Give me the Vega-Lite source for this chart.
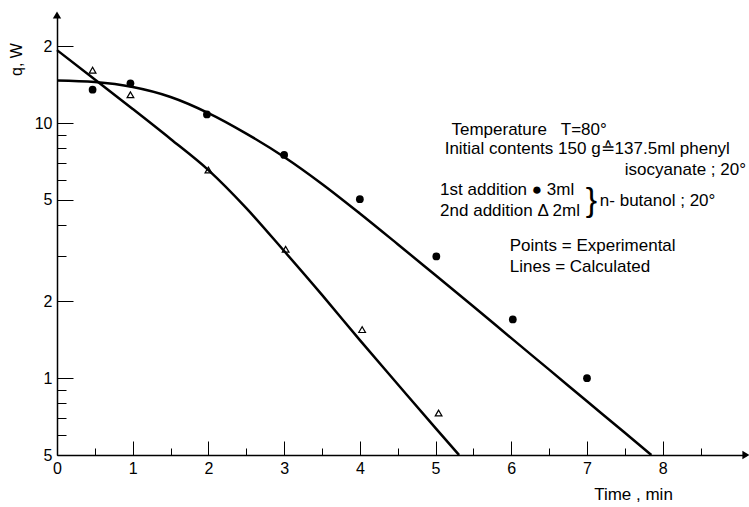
{
  "$schema": "https://vega.github.io/schema/vega-lite/v6.json",
  "width": 689,
  "height": 440,
  "autosize": {"type": "none"},
  "padding": {"left": 57, "top": 15, "right": 3, "bottom": 52},
  "background": "white",
  "config": {"view": {"stroke": null}, "font": "Liberation Sans"},
  "datasets": {
    "lines": [
      {"series": "A", "t": 0, "q": 14.68}, {"series": "A", "t": 0.5, "q": 14.48}, {"series": "A", "t": 1, "q": 13.84},
      {"series": "A", "t": 1.5, "q": 12.65}, {"series": "A", "t": 2, "q": 10.94}, {"series": "A", "t": 2.5, "q": 9.09},
      {"series": "A", "t": 3, "q": 7.36}, {"series": "A", "t": 3.5, "q": 5.77}, {"series": "A", "t": 4, "q": 4.42},
      {"series": "A", "t": 4.5, "q": 3.35}, {"series": "A", "t": 5, "q": 2.53}, {"series": "A", "t": 5.5, "q": 1.91},
      {"series": "A", "t": 6, "q": 1.435}, {"series": "A", "t": 6.5, "q": 1.08}, {"series": "A", "t": 7, "q": 0.812},
      {"series": "A", "t": 7.5, "q": 0.611}, {"series": "A", "t": 7.85, "q": 0.5},
      {"series": "B", "t": 0, "q": 19.3}, {"series": "B", "t": 0.5, "q": 14.8}, {"series": "B", "t": 1, "q": 11.35},
      {"series": "B", "t": 1.5, "q": 8.66}, {"series": "B", "t": 2, "q": 6.54}, {"series": "B", "t": 2.5, "q": 4.64},
      {"series": "B", "t": 3, "q": 3.15}, {"series": "B", "t": 3.5, "q": 2.12}, {"series": "B", "t": 4, "q": 1.41},
      {"series": "B", "t": 4.5, "q": 0.947}, {"series": "B", "t": 5, "q": 0.637}, {"series": "B", "t": 5.31, "q": 0.5}
    ],
    "points": [
      {"addition": "1st", "t": 0.47, "q": 13.5}, {"addition": "1st", "t": 0.97, "q": 14.3}, {"addition": "1st", "t": 1.98, "q": 10.8},
      {"addition": "1st", "t": 3, "q": 7.5}, {"addition": "1st", "t": 4, "q": 5.03}, {"addition": "1st", "t": 5.01, "q": 3.0},
      {"addition": "1st", "t": 6.02, "q": 1.7}, {"addition": "1st", "t": 7, "q": 1.0},
      {"addition": "2nd", "t": 0.47, "q": 16.1}, {"addition": "2nd", "t": 0.97, "q": 12.9}, {"addition": "2nd", "t": 2, "q": 6.54},
      {"addition": "2nd", "t": 3.02, "q": 3.2}, {"addition": "2nd", "t": 4.03, "q": 1.55}, {"addition": "2nd", "t": 5.04, "q": 0.73}
    ],
    "notes": [
      {"side": "left", "t": 5.21, "q": 9.35, "label": "Temperature\u00a0\u00a0 T=80°"},
      {"side": "left", "t": 5.12, "q": 7.94, "label": "Initial contents 150 g≙137.5ml phenyl"},
      {"side": "right", "t": 9.1, "q": 6.54, "label": "isocyanate ; 20°"},
      {"side": "left", "t": 5.06, "q": 5.46, "label": "1st addition  ● 3ml"},
      {"side": "left", "t": 5.06, "q": 4.52, "label": "2nd addition  Δ 2ml"},
      {"side": "left", "t": 7.17, "q": 4.95, "label": "n- butanol ; 20°"},
      {"side": "left", "t": 5.98, "q": 3.29, "label": "Points = Experimental"},
      {"side": "left", "t": 5.98, "q": 2.72, "label": "Lines = Calculated"}
    ]
  },
  "layer": [
    {
      "data": {"name": "lines"},
      "mark": {"type": "line", "interpolate": "monotone", "color": "black", "strokeWidth": 2.5},
      "encoding": {
        "x": {
          "field": "t", "type": "quantitative",
          "scale": {"domain": [0, 9.1], "nice": false, "zero": false},
          "axis": {
            "title": "Time , min",
            "values": [0, 0.5, 1, 1.5, 2, 2.5, 3, 3.5, 4, 4.5, 5, 5.5, 6, 6.5, 7, 7.5, 8, 8.5],
            "labelExpr": "datum.value % 1 == 0 ? format(datum.value, 'd') : ''",
            "tickSize": {"condition": {"test": "datum.value % 1 == 0", "value": -14}, "value": -7},
            "grid": false,
            "domainColor": "black", "domainWidth": 1.5,
            "tickColor": "black", "tickWidth": 1,
            "labelColor": "black", "labelFontSize": 16, "labelPadding": 19,
            "labelFlush": false,
            "titleColor": "black", "titleFontSize": 17, "titleFontWeight": "normal",
            "titleX": 576, "titleY": 39, "titleBaseline": "middle", "titleAlign": "center"
          }
        },
        "y": {
          "field": "q", "type": "quantitative",
          "scale": {"type": "log", "domain": [0.5, 26.5], "nice": false},
          "axis": {
            "title": "q, W",
            "values": [0.5, 0.6, 0.7, 0.8, 0.9, 1, 2, 3, 4, 5, 6, 7, 8, 9, 10, 20],
            "labelExpr": "datum.value == 20 ? '2' : datum.value == 0.5 ? '5' : datum.value == 10 ? '10' : datum.value == 5 ? '5' : datum.value == 2 ? '2' : datum.value == 1 ? '1' : ''",
            "tickSize": {"condition": {"test": "datum.value == 0.5 || datum.value == 1 || datum.value == 2 || datum.value == 5 || datum.value == 10 || datum.value == 20", "value": -16}, "value": -9},
            "grid": false,
            "domainColor": "black", "domainWidth": 1.5,
            "tickColor": "black", "tickWidth": 1,
            "labelColor": "black", "labelFontSize": 16, "labelPadding": 21,
            "labelFlush": false,
            "titleColor": "black", "titleFontSize": 16, "titleFontWeight": "normal",
            "titleX": -41, "titleY": 44, "titleAlign": "center", "titleBaseline": "middle"
          }
        },
        "detail": {"field": "series"}
      }
    },
    {
      "data": {"name": "points"},
      "transform": [{"filter": "datum.addition == '1st'"}],
      "mark": {"type": "point", "shape": "circle", "filled": true, "color": "black", "size": 60, "opacity": 1},
      "encoding": {
        "x": {"field": "t", "type": "quantitative"},
        "y": {"field": "q", "type": "quantitative"}
      }
    },
    {
      "data": {"name": "points"},
      "transform": [{"filter": "datum.addition == '2nd'"}],
      "mark": {"type": "point", "shape": "triangle-up", "filled": false, "color": "black", "strokeWidth": 1.2, "size": 45, "opacity": 1},
      "encoding": {
        "x": {"field": "t", "type": "quantitative"},
        "y": {"field": "q", "type": "quantitative"}
      }
    },
    {
      "data": {"name": "notes"},
      "transform": [{"filter": "datum.side == 'left'"}],
      "mark": {"type": "text", "align": "left", "baseline": "middle", "fontSize": 17, "color": "black"},
      "encoding": {
        "x": {"field": "t", "type": "quantitative"},
        "y": {"field": "q", "type": "quantitative"},
        "text": {"field": "label"}
      }
    },
    {
      "data": {"name": "notes"},
      "transform": [{"filter": "datum.side == 'right'"}],
      "mark": {"type": "text", "align": "right", "baseline": "middle", "fontSize": 17, "color": "black"},
      "encoding": {
        "x": {"field": "t", "type": "quantitative"},
        "y": {"field": "q", "type": "quantitative"},
        "text": {"field": "label"}
      }
    },
    {
      "data": {"values": [{}]},
      "mark": {"type": "text", "text": "}", "align": "center", "baseline": "middle", "fontSize": 34, "color": "black"},
      "encoding": {
        "x": {"datum": 7.06},
        "y": {"datum": 4.95}
      }
    },
    {
      "data": {"values": [{}]},
      "mark": {"type": "point", "shape": "triangle-up", "filled": true, "color": "black", "size": 70, "opacity": 1, "clip": false},
      "encoding": {"x": {"datum": 0}, "y": {"datum": 26.5}}
    },
    {
      "data": {"values": [{}]},
      "mark": {"type": "point", "shape": "triangle-right", "filled": true, "color": "black", "size": 70, "opacity": 1, "clip": false},
      "encoding": {"x": {"datum": 9.1}, "y": {"datum": 0.5}}
    }
  ]
}
